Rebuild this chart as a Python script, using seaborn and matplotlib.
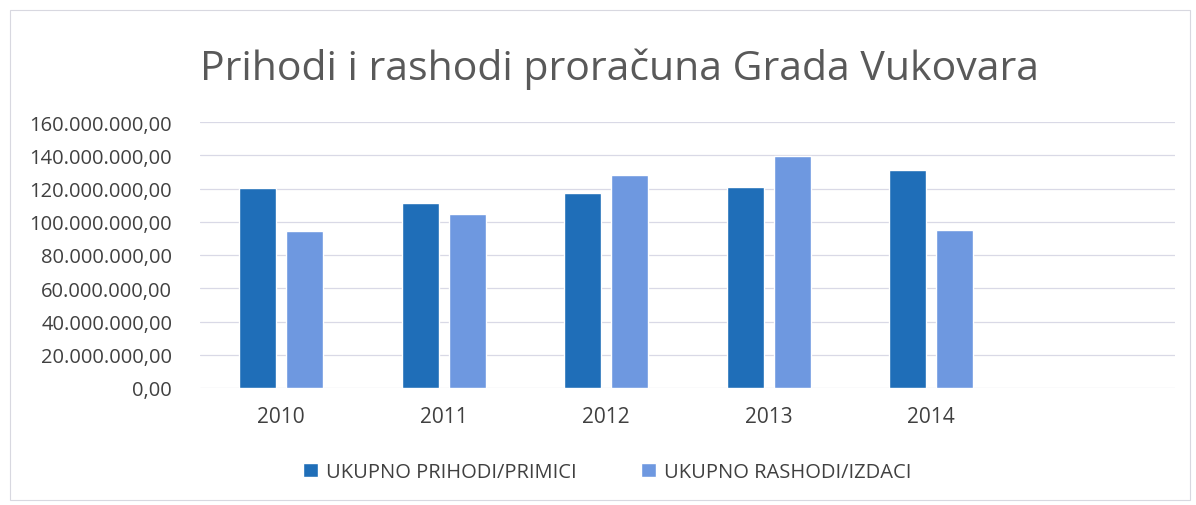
import matplotlib
matplotlib.use("Agg")
import matplotlib.pyplot as plt
import matplotlib.ticker as mticker
from matplotlib.patches import Rectangle
import seaborn as sns
import pandas as pd

# podaci očitani s grafikona
godine = ["2010", "2011", "2012", "2013", "2014"]
prihodi = [120.4e6, 111.0e6, 117.3e6, 120.7e6, 131.3e6]
rashodi = [94.2e6, 104.8e6, 128.1e6, 139.7e6, 95.0e6]
serije = ["UKUPNO PRIHODI/PRIMICI", "UKUPNO RASHODI/IZDACI"]
boje = ["#1f6eb8", "#6e98e0"]

df = pd.DataFrame({
    "godina": godine * 2,
    "iznos": prihodi + rashodi,
    "serija": [serije[0]] * len(godine) + [serije[1]] * len(godine),
})

sns.set_theme(style="white")
plt.rcParams["font.family"] = ["Open Sans", "DejaVu Sans"]

fig = plt.figure(figsize=(11.96, 5.06), dpi=100)
ax = fig.add_axes([200 / 1196, 117 / 506, 975 / 1196, 266 / 506])

sns.barplot(data=df, x="godina", y="iznos", hue="serija", order=godine,
            palette=boje, saturation=1, width=0.58, gap=0.21, ax=ax,
            legend=True)

ax.set_xlim(-0.5, 5.5)
ax.set_ylim(0, 160e6)
ax.yaxis.set_major_locator(mticker.MultipleLocator(20e6))


def hr_format(v, pos):
    s = f"{v:,.2f}"
    return s.replace(",", "X").replace(".", ",").replace("X", ".")


ax.yaxis.set_major_formatter(mticker.FuncFormatter(hr_format))
ax.grid(axis="y", color="#d9d9e6", linewidth=0.9)
ax.set_axisbelow(True)
for s in ax.spines.values():
    s.set_visible(False)
ax.tick_params(axis="y", labelsize=14.5, labelcolor="#404040", pad=20, length=0)
ax.tick_params(axis="x", labelsize=15, labelcolor="#404040", pad=13, length=0)
ax.set_xlabel("")
ax.set_ylabel("")

fig.text(620 / 1196, 1 - 80 / 506, "Prihodi i rashodi proračuna Grada Vukovara",
         ha="center", va="baseline", fontsize=29.5, color="#595959")

leg = ax.legend(loc="center", bbox_to_anchor=(607 / 1196, 1 - 473 / 506),
                bbox_transform=fig.transFigure, ncol=2, frameon=False,
                fontsize=14.5, handlelength=0.75, handleheight=0.75,
                columnspacing=3.2, handletextpad=0.4)
for t in leg.get_texts():
    t.set_color("#404040")

fig.patches.append(Rectangle((10 / 1196, 5 / 506), 1180 / 1196, 490 / 506,
                             transform=fig.transFigure, fill=False,
                             edgecolor="#d8d8e0", linewidth=0.8))

fig.savefig("out.png", dpi=100, facecolor="white")
